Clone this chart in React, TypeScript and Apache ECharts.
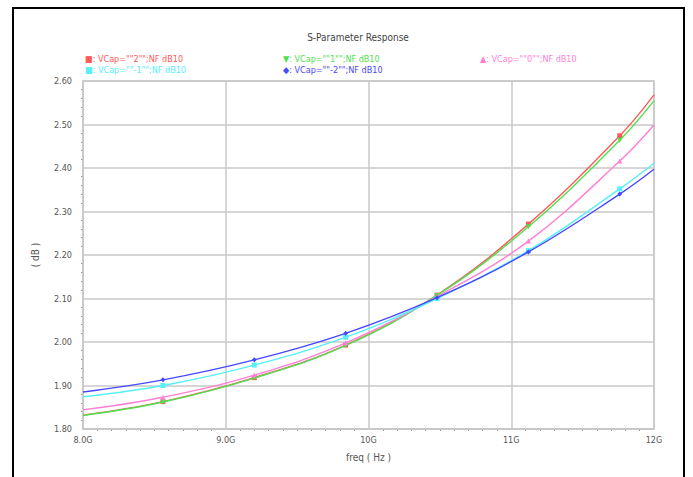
import React, { useEffect, useRef } from "react";
import * as echarts from "echarts";

const freqs = [8.0, 8.56, 9.2, 9.84, 10.48, 11.12, 11.76, 12.0];
const vcap2 = [1.832, 1.863, 1.918, 1.993, 2.108, 2.271, 2.474, 2.568];
const vcap1 = [1.831, 1.862, 1.917, 1.992, 2.107, 2.265, 2.464, 2.555];
const vcap0 = [1.844, 1.873, 1.924, 1.998, 2.104, 2.232, 2.416, 2.499];
const vcapM1 = [1.874, 1.9, 1.947, 2.011, 2.1, 2.21, 2.352, 2.411];
const vcapM2 = [1.885, 1.913, 1.959, 2.02, 2.102, 2.207, 2.34, 2.397];

const xTickLabels: Record<string, string> = { "8": "8.0G", "9": "9.0G", "10": "10G", "11": "11G", "12": "12G" };

const seriesNames = [
  'VCap=""2"";NF dB10',
  'VCap=""1"";NF dB10',
  'VCap=""0"";NF dB10',
  'VCap=""-1"";NF dB10',
  'VCap=""-2"";NF dB10',
];
const seriesValues = [vcap2, vcap1, vcap0, vcapM1, vcapM2];
const colors = ["#ff5a5a", "#4fe04f", "#ff7fd4", "#55f0f8", "#4848ff"];
const symbols = ["rect", "triangle", "triangle", "rect", "diamond"];
const symbolRotate = [0, 180, 0, 0, 0];
const legendMarks = ["■", "▼", "▲", "■", "◆"];

const FONT = "'Liberation Sans Narrow', 'DejaVu Sans Condensed', 'Liberation Sans', sans-serif";

export default function App() {
  const ref = useRef<HTMLDivElement>(null);
  useEffect(() => {
    document.body.style.margin = "0";
    const chart = echarts.init(ref.current!, undefined, { renderer: "svg" });
    const series = seriesValues.map((vals, i) => ({
      name: seriesNames[i],
      type: "line" as const,
      smooth: 0.4,
      data: vals.map((v, j) => ({
        value: [freqs[j], v],
        symbol: j === 0 || j === vals.length - 1 ? "none" : symbols[i],
      })),
      symbolSize: 5,
      symbolRotate: symbolRotate[i],
      showSymbol: true,
      lineStyle: { color: colors[i], width: 1.4 },
      itemStyle: { color: colors[i] },
      z: 3 + i,
    }));
    const legendPos = [
      [85, 59],
      [283, 59],
      [480, 59],
      [85, 70],
      [283, 70],
    ];
    const legendTexts = seriesNames.map((n, i) => ({
      type: "text" as const,
      x: legendPos[i][0],
      y: legendPos[i][1],
      style: {
        text: legendMarks[i] + ": " + n,
        fill: colors[i],
        font: "9px " + FONT,
        textVerticalAlign: "middle",
      },
    }));
    chart.setOption({
      animation: false,
      backgroundColor: "#ffffff",
      grid: { left: 83, top: 81, width: 571, height: 348 },
      xAxis: {
        type: "value",
        min: 8,
        max: 12,
        interval: 1,
        axisLine: { show: true, lineStyle: { color: "#c8c8c8", width: 1.5 } },
        axisTick: { show: false },
        minorTick: { show: true, splitNumber: 10, length: 2, lineStyle: { color: "#999" } },
        axisLabel: {
          color: "#555",
          fontSize: 9,
          fontFamily: FONT,
          margin: 6,
          formatter: (v: number) => xTickLabels[String(v)] ?? "",
        },
        splitLine: { show: true, lineStyle: { color: "#c8c8c8", width: 1.5 } },
        name: "freq ( Hz )",
        nameLocation: "middle",
        nameGap: 23,
        nameTextStyle: { color: "#555", fontSize: 10, fontFamily: FONT },
      },
      yAxis: {
        type: "value",
        min: 1.8,
        max: 2.6,
        interval: 0.1,
        axisLine: { show: true, lineStyle: { color: "#c8c8c8", width: 1.5 } },
        axisTick: { show: false },
        minorTick: { show: true, splitNumber: 5, length: 2, lineStyle: { color: "#999" } },
        axisLabel: {
          color: "#555",
          fontSize: 9,
          fontFamily: FONT,
          margin: 11,
          formatter: (v: number) => v.toFixed(2),
        },
        splitLine: { show: true, lineStyle: { color: "#c8c8c8", width: 1.5 } },
        name: "( dB )",
        nameLocation: "middle",
        nameGap: 43,
        nameTextStyle: { color: "#555", fontSize: 10, fontFamily: FONT },
      },
      graphic: [
        {
          type: "rect",
          shape: { x: 13, y: 8, width: 671, height: 490 },
          style: { fill: "none", stroke: "#000", lineWidth: 2 },
          silent: true,
          z: 100,
        },
        {
          type: "rect",
          shape: { x: 83, y: 81, width: 571, height: 348 },
          style: { fill: "none", stroke: "#c8c8c8", lineWidth: 1.5 },
          silent: true,
          z: 1,
        },
        {
          type: "text",
          x: 358,
          y: 37,
          style: {
            text: "S-Parameter Response",
            fill: "#444",
            font: "10px " + FONT,
            textAlign: "center",
            textVerticalAlign: "middle",
          },
        },
        ...legendTexts,
      ],
      series,
    });
    return () => chart.dispose();
  }, []);
  return <div ref={ref} style={{ width: 693, height: 477, position: "absolute", left: 0, top: 0 }} />;
}
